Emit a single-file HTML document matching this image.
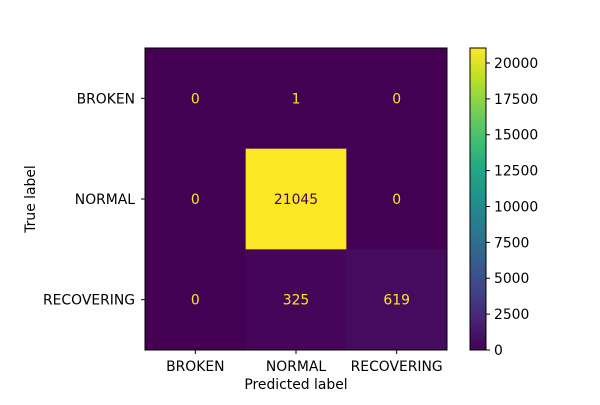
<!DOCTYPE html>
<html><head><meta charset="utf-8"><style>
body{margin:0;background:#fff}
svg text{font-family:"DejaVu Sans","Liberation Sans",sans-serif;font-size:13.9px}
</style></head><body>
<svg id="chart" width="600" height="400">
<defs><linearGradient id="vir" x1="0" y1="1" x2="0" y2="0">
<stop offset="0" stop-color="#440154"/><stop offset="0.1" stop-color="#482475"/><stop offset="0.2" stop-color="#414487"/><stop offset="0.3" stop-color="#355f8d"/><stop offset="0.4" stop-color="#2a788e"/><stop offset="0.5" stop-color="#21918c"/><stop offset="0.6" stop-color="#22a884"/><stop offset="0.7" stop-color="#44bf70"/><stop offset="0.8" stop-color="#7ad151"/><stop offset="0.9" stop-color="#bddf26"/><stop offset="1" stop-color="#fde725"/>
</linearGradient></defs>
</svg>
<script>
const labels=["BROKEN","NORMAL","RECOVERING"];
const row0=[0,1,0];
const row1=[0,21045,0];
const row2=[0,325,619];
const cbTicks=[0,2500,5000,7500,10000,12500,15000,17500,20000];
const matrix=[row0,row1,row2];
const svg=document.getElementById('chart');
const NS='http://www.w3.org/2000/svg';
function mk(t,a,txt){const e=document.createElementNS(NS,t);for(const k in a)e.setAttribute(k,a[k]);if(txt!==undefined)e.textContent=txt;svg.appendChild(e);return e;}
const stops=["#440154","#482475","#414487","#355f8d","#2a788e","#21918c","#22a884","#44bf70","#7ad151","#bddf26","#fde725"];
function hx(c){return [1,3,5].map(i=>parseInt(c.substr(i,2),16));}
function vir(t){t=Math.max(0,Math.min(1,t));const p=t*10,i=Math.min(9,Math.floor(p)),f=p-i;const a=hx(stops[i]),b=hx(stops[i+1]);return 'rgb('+a.map((v,k)=>Math.round(v+(b[k]-v)*f)).join(',')+')';}
const all=matrix.flat();const vmax=Math.max(...all),vmin=Math.min(...all);
const X0=145,Y0=48,S=302,n=labels.length,cs=S/n;
const cx=i=>X0+cs*(i+0.5), cy=i=>Y0+cs*(i+0.5);
matrix.forEach((row,r)=>row.forEach((v,c)=>{
 const t=(v-vmin)/(vmax-vmin);
 let e=mk('rect',{x:X0+cs*c,y:Y0+cs*r,width:cs+0.5,height:cs+0.5,fill:vir(t)});
 
 
 let tx=mk('text',{x:cx(c),y:cy(r)+5,'text-anchor':'middle',fill:t<0.5?'#fde725':'#440154'},String(v));
 
 
}));
let fr=mk('rect',{x:X0,y:Y0,width:S,height:S,fill:'none',stroke:'#000','stroke-width':1});


labels.forEach((l,i)=>{
 mk('line',{x1:cx(i),x2:cx(i),y1:Y0+S,y2:Y0+S+4,stroke:'#000'});
 let a=mk('text',{x:cx(i),y:Y0+S+21,'text-anchor':'middle'},l);
 
 
 mk('line',{x1:X0-4,x2:X0,y1:cy(i),y2:cy(i),stroke:'#000'});
 let b=mk('text',{x:X0-10,y:cy(i)+5,'text-anchor':'end'},l);
 
 
});
let xl=mk('text',{x:X0+S/2,y:389,'text-anchor':'middle'},'Predicted label');


let yl=mk('text',{x:35,y:Y0+S/2,'text-anchor':'middle',transform:'rotate(-90 35 '+(Y0+S/2)+')'},'True label');


const CBX=470,CBW=16;
let cb=mk('rect',{x:CBX,y:Y0,width:CBW,height:S,fill:'url(#vir)',stroke:'#000','stroke-width':1});


const cbY=v=>Y0+S-(v-vmin)/(vmax-vmin)*S;
cbTicks.forEach(v=>{
 mk('line',{x1:CBX+CBW,x2:CBX+CBW+4,y1:cbY(v),y2:cbY(v),stroke:'#000'});
 let t=mk('text',{x:CBX+CBW+8,y:cbY(v)+5},String(v));
 
 
});
</script>
</body></html>
